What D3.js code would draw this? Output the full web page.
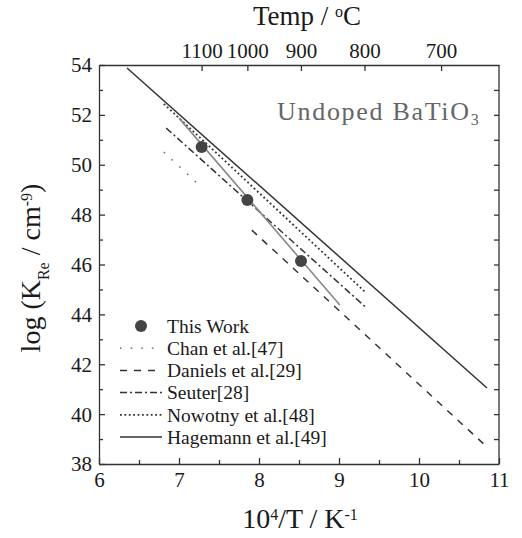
<!DOCTYPE html>
<html>
<head>
<meta charset="utf-8">
<script src="https://cdn.jsdelivr.net/npm/d3@7"></script>
<style>
  body { margin: 0; background: #fff; }
  svg text { font-family: "Liberation Serif", "Times New Roman", serif; fill: #1a1a1a; }
  .axis path, .axis line { stroke: #333; stroke-width: 1.3; }
</style>
</head>
<body>
<div id="chart"></div>
<script>
// data (x = 10^4/T, y = log K_Re)
const hagemann = [[6.35, 53.88], [10.85, 41.05]];
const daniels = [[7.91, 47.38], [10.85, 38.68]];
const nowotny = [[6.81, 52.44], [9.34, 44.86]];
const seuter = [[6.84, 51.47], [9.33, 44.30]];
const chan = [[6.81, 50.51], [7.29, 49.07]];
const thisWorkFit = [[7.0, 51.87], [9.01, 44.38]];
const thisWorkX = [7.283, 7.855, 8.525];
const thisWorkY = [50.71, 48.59, 46.14];

const xTicks = [6, 7, 8, 9, 10, 11];
const yTicks = [38, 40, 42, 44, 46, 48, 50, 52, 54];
const tempTicks = [1100, 1000, 900, 800, 700];

const legendNames = ["This Work", "Chan et al.[47]", "Daniels et al.[29]", "Seuter[28]", "Nowotny et al.[48]", "Hagemann et al.[49]"];

const styles = {
  "Chan et al.[47]": {stroke: "#777", width: 1.6, dash: "1.6,9"},
  "Daniels et al.[29]": {stroke: "#333", width: 1.5, dash: "7,7"},
  "Seuter[28]": {stroke: "#333", width: 1.5, dash: "7,3,2,3"},
  "Nowotny et al.[48]": {stroke: "#333", width: 1.8, dash: "1.8,2.6"},
  "Hagemann et al.[49]": {stroke: "#333", width: 1.5, dash: null}
};
const seriesByName = {
  "Chan et al.[47]": chan,
  "Daniels et al.[29]": daniels,
  "Seuter[28]": seuter,
  "Nowotny et al.[48]": nowotny,
  "Hagemann et al.[49]": hagemann
};

const serif = '"Liberation Serif", "Times New Roman", serif';
const W = 522, H = 538;
const margin = {top: 65, right: 23, bottom: 74, left: 99};
const width = W - margin.left - margin.right;
const height = H - margin.top - margin.bottom;

const svg = d3.select("#chart").append("svg").attr("width", W).attr("height", H);
const g = svg.append("g").attr("transform", `translate(${margin.left},${margin.top})`);

const x = d3.scaleLinear().domain([6, 11]).range([0, width]);
const y = d3.scaleLinear().domain([38, 54]).range([height, 0]);

// minor ticks
g.append("g").attr("class", "axis").attr("transform", `translate(0,${height})`)
  .call(d3.axisBottom(x).tickValues(d3.range(6.5, 11, 1)).tickSize(-4).tickFormat(""))
  .call(s => s.select(".domain").remove());
g.append("g").attr("class", "axis")
  .call(d3.axisLeft(y).tickValues(d3.range(39, 54, 2)).tickSize(-4).tickFormat(""))
  .call(s => s.select(".domain").remove());
g.append("g").attr("class", "axis").attr("transform", `translate(${width},0)`)
  .call(d3.axisRight(y).tickValues(d3.range(39, 54, 1)).tickSize(-5).tickFormat(""))
  .call(s => s.select(".domain").remove());

// major axes
const xAxis = g.append("g").attr("class", "axis").attr("transform", `translate(0,${height})`)
  .call(d3.axisBottom(x).tickValues(xTicks).tickSizeInner(-6).tickSizeOuter(0).tickPadding(8).tickFormat(d3.format("d")));
const yAxis = g.append("g").attr("class", "axis")
  .call(d3.axisLeft(y).tickValues(yTicks).tickSizeInner(-6).tickSizeOuter(0).tickPadding(7).tickFormat(d3.format("d")));
const topAxis = g.append("g").attr("class", "axis")
  .call(d3.axisTop(x).tickValues(tempTicks.map(t => 1e4 / (t + 273.15)))
    .tickSizeInner(-6).tickSizeOuter(0).tickPadding(7).tickFormat((d, i) => tempTicks[i]));
g.append("line").attr("x1", width).attr("x2", width).attr("y1", 0).attr("y2", height)
  .attr("stroke", "#333").attr("stroke-width", 1.3);

g.selectAll(".axis").attr("font-family", serif).attr("font-size", 21);
g.selectAll(".axis text").style("font-family", serif).style("font-size", "21px").attr("fill", "#1a1a1a");
yAxis.selectAll("text").attr("dy", "0.33em");

// lines
const line = d3.line().x(d => x(d[0])).y(d => y(d[1]));
Object.keys(seriesByName).forEach(name => {
  const st = styles[name];
  g.append("path").datum(seriesByName[name])
    .attr("d", line).attr("fill", "none")
    .attr("stroke", st.stroke).attr("stroke-width", st.width)
    .attr("stroke-dasharray", st.dash);
});

g.append("path").datum(thisWorkFit).attr("d", line)
  .attr("fill", "none").attr("stroke", "#888").attr("stroke-width", 1.6);

g.selectAll(".pt").data(thisWorkX).enter().append("circle")
  .attr("class", "pt")
  .attr("cx", d => x(d)).attr("cy", (d, i) => y(thisWorkY[i]))
  .attr("r", 6).attr("fill", "#444");

// annotation
const note = g.append("text").attr("x", 178).attr("y", 55)
  .style("font-size", "26px").style("letter-spacing", "1.7px").style("fill", "#666");
note.append("tspan").text("Undoped BaTiO");
note.append("tspan").attr("baseline-shift", "-30%").style("font-size", "16px").text("3");

// legend
const leg = g.append("g").attr("transform", "translate(21,261)");
legendNames.forEach((name, i) => {
  const row = leg.append("g").attr("transform", `translate(0,${i * 22.2})`);
  if (name === "This Work") {
    row.append("circle").attr("cx", 21).attr("cy", 0).attr("r", 6).attr("fill", "#444");
  } else {
    const st = styles[name];
    row.append("line").attr("x1", 0).attr("x2", 42).attr("y1", 0).attr("y2", 0)
      .attr("stroke", st.stroke).attr("stroke-width", st.width)
      .attr("stroke-dasharray", st.dash);
  }
  row.append("text").attr("x", 47).attr("dy", "0.35em")
    .style("font-size", "19.5px").text(name);
});

// axis titles
const xt = svg.append("text").attr("x", 300).attr("y", 528).attr("text-anchor", "middle")
  .style("font-size", "28px");
xt.append("tspan").text("10");
xt.append("tspan").attr("baseline-shift", "super").style("font-size", "16px").text("4");
xt.append("tspan").text("/T / K");
xt.append("tspan").attr("baseline-shift", "super").style("font-size", "16px").text("-1");

const tt = svg.append("text").attr("x", 307).attr("y", 25).attr("text-anchor", "middle")
  .style("font-size", "27px").text("Temp / ");
tt.append("tspan").attr("baseline-shift", "super").style("font-size", "16px").text("o");
tt.append("tspan").text("C");

const yt = svg.append("text").attr("transform", "translate(40,268) rotate(-90)")
  .attr("text-anchor", "middle").style("font-size", "28px");
yt.append("tspan").text("log (K");
yt.append("tspan").attr("baseline-shift", "sub").style("font-size", "16px").text("Re");
yt.append("tspan").text(" / cm");
yt.append("tspan").attr("baseline-shift", "super").style("font-size", "16px").text("-9");
yt.append("tspan").text(")");
</script>
</body>
</html>
